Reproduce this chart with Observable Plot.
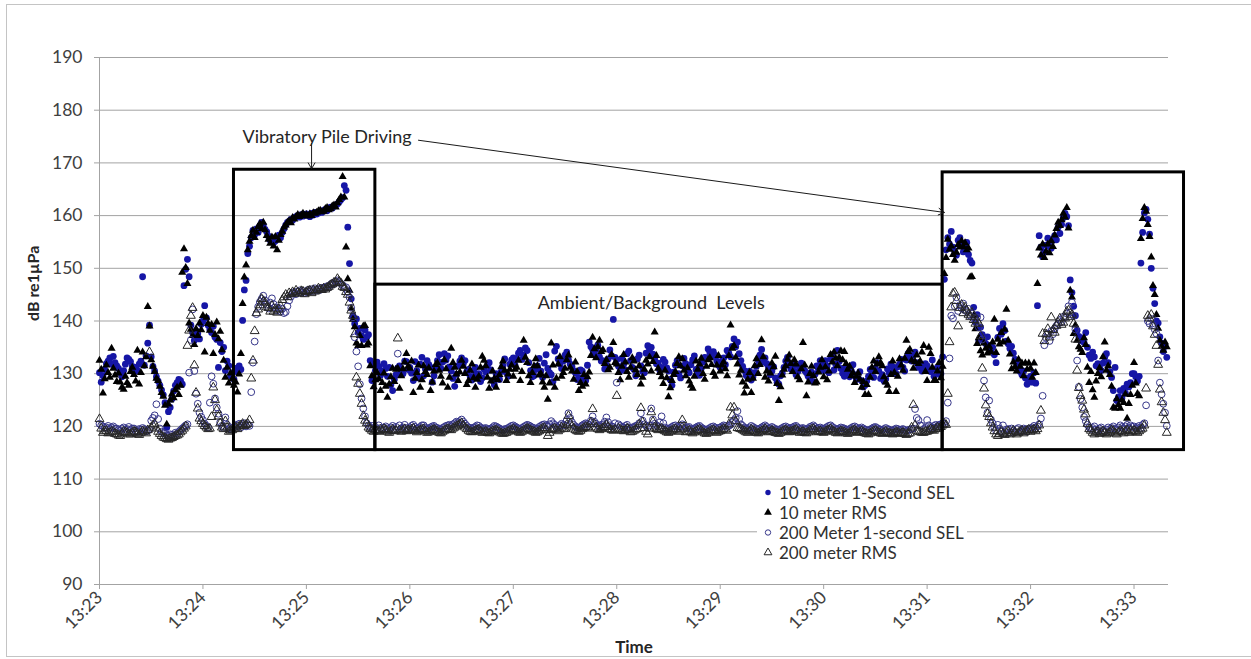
<!DOCTYPE html>
<html>
<head>
<meta charset="utf-8">
<script src="https://cdn.jsdelivr.net/npm/d3@7"></script>
<script src="https://cdn.jsdelivr.net/npm/@observablehq/plot@0.6"></script>
<style>
  html, body { margin: 0; background: #fff; overflow: hidden; }
  #chart { position: relative; width: 1251px; height: 659px; overflow: hidden; font-family: Lato, "Open Sans", sans-serif; }
  .edge { position: absolute; background: #c4c4c4; }
  #edge-top { left: 6px; top: 4px; width: 1245px; height: 1px; }
  #edge-left { left: 6px; top: 4px; width: 1px; height: 653px; }
  #edge-bottom { left: 6px; top: 656px; width: 1245px; height: 1px; }
  #chart svg.plot text { white-space: pre; }
  #legend { position: absolute; left: 757px; top: 482px; width: 210px; height: 81px; background: #fff; }
  #legend .row { display: flex; align-items: center; height: 20px; font-size: 17px; color: #303030; white-space: nowrap; }
  #legend .row svg { flex: none; margin: 0 5px 0 5px; }
</style>
</head>
<body>
<div id="chart"><div class="edge" id="edge-top"></div><div class="edge" id="edge-left"></div><div class="edge" id="edge-bottom"></div></div>
<script>
// Hydrophone levels, one reading per second starting at 13:23:00
const startTime = "13:23:00";
const endTime = "13:33:20";
const stepSeconds = 1;

const seriesNames = ["10 meter 1-Second SEL", "10 meter RMS", "200 Meter 1-second SEL", "200 meter RMS"];

// 10 m, 1-second SEL (dB re 1 µPa), one row of ten per 10 s
const sel10m = [
  // 13:23
  130.2,128.4,129.6,130.8,131.9,132.4,133,131.8,133.3,132.1,
  131.5,131,130.2,129.4,130.6,131.8,133,132.7,132.3,131.4,
  130.3,131.2,130.6,131.8,132.4,148.4,131.6,133.4,135.8,139.2,
  133.2,131.4,130.5,129.4,128.6,127.8,126.9,126,124.5,119.8,
  122.8,123.6,125.2,126.7,127.8,128.3,128.9,128.7,128,146.7,
  149.8,151.7,148.4,139.2,137.8,136.3,138.1,137.6,136.6,139.4,
  // 13:24
  140,142.9,140.6,139.2,138.4,137.8,139,136.9,136.5,131.2,
  135.9,134.2,135,130.6,132.4,131.5,129.6,130.2,128.9,131,
  130.3,131.5,130.8,140.1,145.9,147.7,152.8,154.2,155.8,157.2,
  156.4,157.5,156.8,158.1,158.7,158.2,157.4,156.9,156.1,155.3,
  155.8,154.9,155.2,155.6,156.3,155.8,156.8,157.5,158.2,158.7,
  158.9,159.3,159.1,159.6,159.8,160,159.7,160.2,159.9,160.1,
  // 13:25
  160.3,160,159.8,160.4,160.1,160.6,160.3,160.5,160.8,160.6,
  161,161.2,160.9,161.3,161.6,161.4,161.8,162,162.2,162.6,
  163,163.4,165.7,164.8,157.8,150.9,144.2,141,139.5,140.4,
  137.8,138.6,137.2,136.5,138.3,136.9,137.4,132.5,128.7,131.8,
  130.6,132.2,131.4,129.7,130.5,131.9,131,129.5,131.2,127.9,
  126.8,128.9,129.8,131.1,131.5,130.3,130,132.4,132.3,130.8,
  // 13:26
  131.2,130.1,128.7,132.3,130.6,129.2,131.8,133.1,129.6,130.9,
  132.5,131.7,131.2,128.4,129.6,130.8,132.5,133.6,131,132.2,
  133.8,132.6,133.4,131.3,130.5,129.1,127.6,129.9,131.5,132.4,
  133,131.9,132.5,130.4,130.8,129.5,128.8,130.6,131.2,129.8,
  130,128.5,129.2,130.9,130.3,131.6,132.1,130.7,128.7,127.9,
  130,129.4,128.9,130.4,131.5,132.8,130.2,129.5,131.8,132.6,
  // 13:27
  133,131.6,132.8,133.9,134.4,132.7,133.5,134.9,134.4,132.1,
  130.6,129.4,129.6,130.8,131.5,132.9,130.5,129.3,132,133.6,
  131,130.2,129.8,128.5,134.3,135.2,132.8,131.9,131,132.4,
  133.5,134.1,132.6,131.8,131.4,130.6,130.2,128.9,129.3,130.7,
  130.5,129.1,128.7,131.6,136,135.1,134.6,133.8,134.6,135.4,
  133.2,132.4,132.5,130.9,131.6,132.8,134.5,133.4,140.3,133.1,
  // 13:28
  132.6,131.4,130.5,132.9,131.8,130.7,133.8,134.3,132.5,131.2,
  130.8,129.6,132.8,133.5,131.5,130.4,130.2,133.9,135.3,134.6,
  135,133.7,132.8,131.9,132,130.6,131.2,132.7,132.2,131.1,
  130.5,128.9,127.8,130.3,131.6,132.5,130,129.2,131.5,132.9,
  131.9,130.6,130.2,131.7,132.6,133.4,130.8,129.9,129.7,131,
  132.2,133.1,133,134.7,134,133.2,134.2,133.5,132.4,131.6,
  // 13:29
  131.2,132.4,133,131.7,134.4,133.9,133.2,135.2,136.6,135.1,
  136,133.8,132.5,131.4,130.6,129.7,129.3,130.5,128.8,129.4,
  130.2,131.4,132.6,133.5,134.6,132.2,133,131.9,131.2,129.8,
  130.5,131.3,129.2,128.4,128,129.6,130.1,131.2,132.4,133.1,
  131.8,130.9,130.8,131.6,129.8,130.4,131.1,132,131.4,130.6,
  130.2,129.5,129.1,130.3,128.5,129.9,131.5,130.8,132.5,131.9,
  // 13:30
  130.6,132.5,131.5,130.2,132.8,133.6,130.7,131.8,134.4,132.3,
  131,130.1,129.5,131.2,130.2,129.4,130.6,131.7,129.8,128.9,
  129.2,130.4,128.7,127.5,127.8,128.6,129.5,130.8,130.4,129.3,
  131,132.1,130.5,129.1,129.8,128.6,129,130.9,130.2,131.8,
  131.3,130.4,130,131.3,131.8,132.7,131.2,130.5,132.6,133.8,
  133.2,132.4,133.5,134.1,132.1,131.2,131.6,130.5,130.8,131.9,
  // 13:31
  131.5,130.7,130.4,132.6,129.5,130.8,131.2,129.9,130,133.2,
  147.9,153.5,155.8,154.6,157,154,153.2,152.5,155.3,155.8,
  154.5,153.1,153.8,154.9,152.6,151.5,151,142.6,139.8,141.2,
  136.3,138.8,137.4,136.1,135.7,137,135.3,134.4,135,133.6,
  132.1,136.9,138.6,137.5,139.5,138.2,136.2,135.7,134.8,135.2,
  133.9,132.7,131.9,131.1,130.4,129.8,130.5,129.2,128,128.9,
  // 13:32
  129.5,128.4,130.2,128.2,142.9,156.2,154,152.2,153.1,154.4,
  155.7,154.2,153.8,155.3,156.2,155.4,157.8,156.6,158.3,159.6,
  160.4,159.8,158.1,147.8,145.4,142.8,141,138.2,137.1,136.3,
  136.8,135.9,137.8,135,133.5,132.9,134.1,133.2,131.5,131.9,
  131.2,130.6,132,133.1,133.8,132.1,130.4,129.3,126.8,131.2,
  124.9,125.6,126.8,125.4,127.2,126.3,128,127.5,128.3,130,
  // 13:33
  130,129.4,128.6,129.5,151,156.8,160.5,161.2,159.3,156.5,
  150,146.2,143.3,140,139.6,137,135.8,134.2,135.2,133.1
];

// 10 m, RMS
const rms10m = [
  // 13:23
  132.5,130.8,126.3,129,131.6,130.2,129.3,134.8,131,129.7,
  128.5,130.1,128.4,127.4,127,129.5,128.3,127.8,130.4,131.2,
  129.8,128.6,134.4,128,130.2,134.1,131.5,133.2,142.7,139,
  132.6,131.4,130.4,129.1,128.7,127.6,126.4,125.7,124,120.4,
  124.2,125,126.1,125.4,126.9,127.4,126,127.8,149.2,153.7,
  150.1,147.1,139.6,138.4,137.2,135.5,138.5,137.2,139.6,138.3,
  // 13:24
  141,134.1,140.7,139.5,138.2,139.3,133.8,137.4,139.8,136.6,
  138,134.5,132.5,129.3,131.2,128.2,130.1,129,127.8,128.4,
  126.5,129.9,133.8,143.3,148.3,150.6,153.5,155.1,156.2,157.2,
  155.8,156.8,157.9,158.4,157.5,158.7,157.3,156.2,155.5,154.7,
  155.9,154.2,156,153.5,155.3,156.4,157,157.8,158.2,158.7,
  159,158.6,159.6,159.3,159.8,160.2,159.8,160.1,160.4,160,
  // 13:25
  160.2,159.9,160.3,160,160.5,160.4,160.6,160.9,161,160.7,
  160.8,161.3,161.5,161.1,161.3,161.8,162,161.6,162.4,163,
  163.5,167.4,163.5,154,148,145.8,142.4,140.3,138.9,135.8,
  135.3,137.2,135.3,139,139.1,135.4,135.8,131.5,129.6,127.5,
  128.8,130.2,129,126.8,128.3,130.1,127.6,125.5,128,129.4,
  131,128.5,130.8,131,127.2,129.6,130.9,132.2,133.8,131.4,
  // 13:26
  131,132.4,126.4,129.1,130.2,131.6,127.4,128.8,131.5,130.4,
  129.8,131.1,126.8,128.4,130.5,131.7,132,130.6,129.5,128.2,
  132.6,130.9,127.4,129.3,134.8,132.1,131.2,129.9,128.7,130.3,
  132.5,131.4,130,127.9,128.7,130.6,131.8,129.2,127.4,128.9,
  129.5,131.2,133.3,132.5,131.5,129.3,127.2,128.6,130.5,129.1,
  127.4,128.8,129.8,131.3,132.4,130.6,128.7,129.9,130.8,131.6,
  // 13:27
  129.5,130.8,131.2,132.5,128.7,130.4,136.3,133.1,132.1,129.6,
  128.3,130.2,131.5,132.8,131.5,129.7,130,128.4,127.4,129.6,
  125.1,128.2,135.8,131.6,127.4,129.1,131.8,133.2,129.5,130.2,
  131,132.6,133.5,131.2,130.5,128.9,132.2,130.4,126.8,128.3,
  127.6,129.8,128,129.4,130.3,133.4,136.9,134.7,133,135.1,
  136.3,134.2,134.5,131.9,132.6,130.7,131.2,133.6,135.9,132.1,
  // 13:28
  131.8,130.2,128.8,131.4,133.6,132.2,130.4,129.3,131.2,133,
  132.4,130.7,129.8,131.5,128,129.3,130.8,132.5,131.8,133.2,
  130.5,132.3,137.9,133.4,131,130.2,129.4,128.1,130.6,129.2,
  125.6,127.3,128.7,129.8,130.4,131.9,133.2,131.5,132.8,130.6,
  129.6,131.1,128.6,127.8,127.2,129.5,132.4,130.8,131.8,132.9,
  130,128.9,131.4,132.6,133,131.7,130.2,129.5,131.6,133.4,
  // 13:29
  130.5,131.6,132.2,130.9,129.6,133.4,139.2,134.8,135.3,133.1,
  131.8,129.7,130.6,128.4,126.3,127.6,128.9,130.2,126.4,129.1,
  131.5,132.8,130,131.7,136.4,133.2,129.3,130.5,128.6,130.1,
  132,131.3,133.3,128.1,124.9,127.5,129.7,130.8,131.5,132.7,
  133.5,131.9,130.4,132.6,131.8,129.4,128.8,130.9,135.9,131.6,
  125.8,128.4,130,131.4,129.6,128.2,128.4,130.3,131.2,132.6,
  // 13:30
  129.4,131.3,128.8,130.5,133.6,132.2,134.1,132.9,131.5,133.1,
  134.3,132.6,134.2,131.9,130.8,131.4,129.6,130.2,128.3,129.5,
  130.1,128.9,127.4,128.5,126,127.9,126,129.3,131.2,132.4,
  130.4,131.8,133.2,132.1,131.5,129.4,128.4,127.8,126.6,129.8,
  132.4,130.2,126.6,129.5,132.8,131.6,130.6,132.9,136.3,134.2,
  134.6,132.5,131,132.3,133.5,131.9,132.4,134.1,135.3,130.4,
  // 13:31
  128.7,135,133.8,131.2,128.7,128.7,130.5,132.1,129.2,131.4,
  149,152,155.5,153.6,154.2,152.6,151.5,153,154.5,154,
  155.2,154.1,154.8,153.5,153.8,148.3,148.4,141,138.5,135.7,
  136.8,134.3,133.5,135.8,134.8,133.9,135.2,134.2,136,140.3,
  134,136.5,135.6,137.8,136,138.4,142.2,136.3,133.7,130.9,
  132.2,131.3,130.5,132.7,131.4,132,129.6,132,130.8,132,
  // 13:32
  131,129.3,132,130.2,147.1,153.8,152.5,154.6,152,153.2,
  154.6,152.9,155.2,154.1,156.3,157.5,158.7,158.1,159.2,160.4,
  159.7,161.5,157.6,145.8,144.5,137.6,139.2,136.3,135.1,134.6,
  134,136.8,135.5,131.2,128.3,130.4,126.9,125.5,128.6,130,
  131.1,129.4,133.2,136,130.6,131.5,129.8,127.6,123.6,123.4,
  125.2,124.1,123.4,125,124.5,126.1,121.5,124.3,126,127.8,
  // 13:33
  132.1,128.2,126.2,125.8,155.6,159.4,161.5,160.8,158.3,156,
  152.1,146.7,145,141.2,138.6,136.3,135.2,134.4,136,135.1
];

// 200 m, 1-second SEL
const sel200m = [
  // 13:23
  120.5,120.2,120,119.7,119.8,120.1,119.5,119.8,120,119.6,
  119.6,119.3,119.2,119.6,119.8,119.4,119.5,119.9,119.3,119.6,
  119.6,119.2,119,119.5,119.4,119.7,119.5,119.1,119.2,119.4,
  121.1,121.6,122.1,124.2,121.4,119.6,119,118.8,118.6,118.3,
  118.2,118.5,118.4,118.1,118.8,118.6,119,119.3,119.6,119.9,
  120.2,120.4,130.2,136.4,142.2,130.5,126.2,124.3,122.6,121.8,
  // 13:24
  121.2,120.5,120.1,119.8,124.5,129.5,128.1,125.3,123.6,122.4,
  120.8,120.1,119.7,121.7,120.3,119.5,119.8,119.4,119.8,120.3,
  120.1,120.5,119.8,120.2,120.6,120,120.4,120.1,126.5,132.1,
  136.1,141.3,142.7,143.6,144.2,144.8,143.9,143.1,142.4,143.5,
  144.3,143.2,142.6,142,142.5,141.8,142.3,141.5,141.7,142.8,
  143.9,144.6,145.2,145.5,145.1,145.6,145.8,145.4,145.7,145.3,
  // 13:25
  145.5,145.9,145.6,146,145.7,146.2,145.8,146.1,145.9,146.3,
  146.1,146.4,146.6,146.4,146.9,147.2,147,147.5,147.7,147.4,
  147.1,146.8,146.3,146.4,145.5,144.5,142.5,140.7,136.9,134.2,
  131.4,128,125.3,123.4,121.9,120.6,120.2,119.8,120.1,119.6,
  119.9,119.5,120.2,119.7,119.4,119.8,120,119.6,119.3,119.8,
  120.1,119.5,119.9,133.8,120.2,119.6,119.8,120.3,119.7,119.5,
  // 13:26
  119.8,120.1,120.3,119.9,119.6,119.7,119.9,120.2,120.2,119.8,
  119.5,119.6,119.8,120,120.1,119.8,119.7,119.5,119.4,119.7,
  119.9,120.1,120.2,120.3,120,120.4,120.6,120.9,120.8,121,
  121.3,120.9,120.5,120.1,119.8,119.7,119.6,119.8,119.9,120.2,
  120.1,119.8,119.5,119.6,119.7,119.5,119.4,119.6,119.8,120.1,
  120,119.8,119.6,119.4,119.3,119.5,119.5,119.7,119.9,120.1,
  // 13:27
  120.2,120,119.8,119.6,119.5,119.7,119.9,120.1,120.3,120.2,
  120,119.8,119.7,119.5,119.6,119.9,120.1,120.3,120.4,120.2,
  120,120.4,121,120.6,120.3,120,119.8,120.2,120.5,120.3,
  120.2,121.2,122.5,121.6,120.8,120.3,120,119.8,119.7,119.9,
  120.2,120.4,120.6,120.5,120.3,121.1,121.9,120.9,120.5,120.2,
  120,120.3,120.4,120.9,121.7,120.8,120.2,120,119.9,120.6,
  // 13:28
  128.3,120.4,120.1,119.9,119.8,120.1,120.3,119.8,119.6,119.8,
  119.9,120.1,120.2,120.6,122.5,121.1,120.4,120.1,119.8,120.2,
  123.4,121.3,120.5,120.2,120,120.8,121.9,120.6,119.8,119.6,
  119.5,119.7,119.9,120.1,120.2,119.9,119.7,120,120.4,120.2,
  119.6,119.8,119.9,119.6,119.4,119.6,119.8,120,120.1,119.8,
  119.6,119.4,119.3,119.5,119.7,119.9,120,119.8,119.5,119.7,
  // 13:29
  119.8,120,120.2,120.1,119.9,120.1,120.3,120.8,121.2,121.6,
  122.9,121.4,120.4,120.1,119.8,119.6,119.5,119.8,120.1,119.9,
  119.7,119.5,119.4,119.6,119.8,120,120.2,119.9,119.6,119.7,
  119.9,119.7,119.5,119.4,119.3,119.5,119.7,119.9,120,119.8,
  119.6,119.7,119.8,120,120.1,119.8,119.5,119.6,119.7,119.5,
  119.4,119.6,119.9,120,120.2,119.9,119.6,119.7,119.8,119.6,
  // 13:30
  119.5,119.7,119.9,120.1,120.2,119.9,119.7,119.5,119.4,119.6,
  119.8,119.7,119.6,119.4,119.3,119.5,119.7,119.9,120,119.8,
  119.5,119.6,119.8,119.6,119.4,119.3,119.2,119.4,119.6,119.8,
  119.9,119.7,119.5,119.4,119.3,119.5,119.7,119.5,119.4,119.2,
  119.2,119.4,119.6,119.5,119.3,119.4,119.5,119.3,119.1,119.3,
  119.4,119.5,119.6,123.3,121.6,121.2,120.2,120.1,119.5,119.7,
  // 13:31
  121.2,120.2,119.9,119.8,120.1,120.3,120,120.3,120.4,120.6,
  120.4,121,124.5,132.9,141,140.5,142.8,144.5,141.9,143,
  142.4,143.3,142.1,141.8,142.3,141,141.4,140.5,139.8,140.7,
  138.8,140.7,136.5,128.7,125.5,122.6,124.9,121.3,120.6,119.8,
  119.2,120.3,119.6,119,120.2,118.6,119.4,119.5,118.8,119.6,
  119.2,118.9,119.5,119.7,119,119.3,119.6,119.4,119,119.6,
  // 13:32
  119.5,119.8,120.1,119.7,120,120.4,121.5,125.8,135.4,136.8,
  137.6,136.2,138.1,137.5,138.5,139.1,139.5,140.2,139.8,140.8,
  140.7,141.4,142.8,141.6,143.5,141,138.4,132.5,127.5,125.2,
  123.6,121.8,121,120.3,119.8,119.5,119.7,120,119.4,119.2,
  119.6,119.8,119.3,119,119.4,119.8,119.5,119.7,120,119.6,
  119.4,119.8,120.2,119.9,119.6,120,120.3,119.8,120.2,119.9,
  // 13:33
  120,119.6,119.8,120.1,119.7,120.3,120.6,124,140,139.5,
  140.4,139.2,138.4,137.6,132.5,128.3,126.1,124.3,122.6,120.1
];

// 200 m, RMS
const rms200m = [
  // 13:23
  121.4,119.6,118.8,119.1,119.2,118.7,118.8,119,119,118.6,
  118.5,118.3,118.2,118.7,119,118.9,118.8,118.5,118.5,118.8,
  119,118.9,118.6,118.4,118.8,119.1,119,118.7,119.3,134.1,
  119.8,120.2,120.5,119.6,119,118.6,118.2,117.9,117.8,117.6,
  117.5,117.7,117.8,118,118.2,118.3,118.5,118.9,119.2,119.6,
  120,135.3,138.2,141,142.5,131.6,126.4,123.4,121.5,121,
  // 13:24
  120.5,120.1,119.8,119.5,119.6,121.8,127.4,125,123.1,121.9,
  120.6,119.8,119.5,121,119.8,119,119.2,119.3,119.6,119.8,
  119.5,120,120.2,120.5,120.1,120.3,120.5,121.2,129.1,132.5,
  138.1,141.5,142.2,143,144.2,143.7,143.5,142.6,142.5,141.8,
  142.9,141.8,142.2,141.6,142.2,142.9,144,144.5,145,144.6,
  145.3,145.1,145.5,145.2,145.8,145.4,145.2,145.7,145.6,145.1,
  // 13:25
  145.5,145.7,145.8,145.3,145.9,145.6,145.8,146.2,146,145.9,
  146.2,146,146.3,146.5,146.8,147,147.3,147.2,148,147.5,
  147.2,146.5,146.3,145.5,145,143.5,142,141,137.5,129.3,
  128.1,126.2,124.3,122,121.1,120.6,119.8,119.5,119.2,119,
  119.3,119.1,119,119.4,119.2,119.5,119.3,119,118.8,119.2,
  119.4,119.1,119.2,136.7,119.3,119,119.2,119.5,119.1,119.3,
  // 13:26
  119.2,119.4,119.6,119.2,118.9,119.1,119.3,119.4,119.5,119.1,
  118.8,118.9,119.1,119.3,119.4,119.2,119,118.8,118.7,119,
  119.2,119.4,119.5,119.4,119.3,119.6,119.8,120,120.2,120.4,
  120.6,120.2,119.8,119.5,119.2,119,118.9,119,119.2,119.3,
  119.4,119.1,118.8,118.9,119,118.8,118.7,118.9,119.1,119.2,
  119.3,119.1,118.9,118.7,118.6,118.7,118.8,119,119.2,119.3,
  // 13:27
  119.5,119.3,119.1,118.9,118.8,119,119.2,119.4,119.6,119.5,
  119.3,119.1,119,118.8,118.9,119.1,119.4,119.6,119.7,119.3,
  118.2,118.8,119.3,119.5,119.6,119.4,119.1,119.4,119.8,119.6,
  119.5,120.3,122,120.6,120,119.6,119.3,119.1,119,119.2,
  119.5,119.7,119.9,119.8,119.6,120.8,123.3,120.5,119.8,119.5,
  119.3,119.5,119.7,119.9,120.3,119.9,119.5,119.3,119.2,119.4,
  // 13:28
  125.8,119.6,119.4,119.2,119.1,119.3,119.6,119.4,118.9,119,
  119.2,119.4,119.5,120.4,123.5,120.8,119.7,119,118.5,119.6,
  122.7,120.9,119.8,119.5,119.3,119.5,119.6,119.3,119.1,118.9,
  118.8,119,119.2,119.4,119.5,119.2,119,119.4,121.2,119.6,
  118.9,119,119.2,118.9,118.7,118.9,119.1,119.3,119.4,119.2,
  118.9,118.7,118.6,118.8,119,119.2,119.3,119.1,118.8,119,
  // 13:29
  119.1,119.3,119.5,119.4,119.2,120.4,123.6,122.1,123.6,121,
  119.7,119.6,119.5,119.3,119.1,118.9,118.8,119.1,119.4,119.2,
  119,118.8,118.7,118.9,119.1,119.3,119.5,119.2,118.9,119,
  119.2,119,118.8,118.7,118.6,118.8,119,119.2,119.3,119.1,
  118.9,119,119.1,119.3,119.4,119.1,118.8,118.9,119,118.8,
  118.7,118.9,119.2,119.4,119.5,119.2,118.9,119,119.1,118.9,
  // 13:30
  118.8,119,119.2,119.3,119.5,119.2,119,118.8,118.7,118.9,
  119.1,119,118.9,118.7,118.6,118.8,119,119.2,119.3,119,
  118.8,118.9,119.1,118.9,118.7,118.6,118.5,118.7,118.9,119.1,
  119.2,119,118.8,118.7,118.6,118.8,119,118.8,118.7,118.6,
  118.5,118.7,118.9,118.8,118.6,118.7,118.8,118.6,118.4,118.6,
  118.7,119.8,124.1,120.2,119.2,119,118.9,118.8,118.8,119,
  // 13:31
  119,119.2,119.5,119.3,119.2,119.5,119.8,119.6,119.9,120.2,
  120.5,120.3,126.2,136,142.6,145.2,145.4,143.8,139,142.5,
  143.1,141.5,142.6,142,141.2,140.8,141.6,140.2,139.5,140.1,
  139.5,137.2,131,127.2,124,122.4,121.8,120.6,119.8,119.1,
  118.5,118.2,118.6,119,118.6,118.4,118.8,119.1,118.5,118.7,
  119.2,118.9,118.5,118.8,119,119.2,118.7,119,119.2,119.4,
  // 13:32
  119,119.3,119.4,119.1,119.5,120.2,123,137.6,136.2,137.5,
  138.5,136.9,140.7,138.3,137.8,139.1,139.7,140.5,139.3,139.7,
  140.5,141.8,142,140.8,141.2,139.5,136.5,130.6,127.3,125.8,
  124.9,123.2,122.3,120.5,119.5,119.2,118.8,118.5,118.9,119,
  118.6,118.8,119.1,118.8,118.5,118.7,118.9,119.3,119.1,118.7,
  118.5,118.9,119.2,119,118.7,119.1,119.3,118.8,119.2,119,
  // 13:33
  119.2,119,118.8,119.1,119.4,119.6,120.2,127.2,141,140.5,
  141.2,139,137.4,135.3,131.7,127,124.6,122.6,121.2,118.8
];

// Axis ticks
const yTicks = [90, 100, 110, 120, 130, 140, 150, 160, 170, 180, 190];
const xTickLabels = ["13:23", "13:24", "13:25", "13:26", "13:27", "13:28", "13:29", "13:30", "13:31", "13:32", "13:33"];

// Highlighted periods: pile driving (two) and ambient background
const boxStart = ["13:24:18", "13:25:40", "13:31:09"];
const boxEnd = ["13:25:40", "13:31:09", "13:33:29"];
const boxBottom = [115.5, 115.5, 115.5];
const boxTop = [168.7, 146.9, 168.2];

// Callout labels and their leader arrows
const noteText = ["Vibratory Pile Driving", "Ambient/Background  Levels"];
const noteTime = ["13:25:12", "13:28:20"];
const noteLevel = [174.8, 143.3];
const arrowFromTime = ["13:25:03", "13:26:05"];
const arrowFromLevel = [173.7, 174.3];
const arrowToTime = ["13:25:03", "13:31:10"];
const arrowToLevel = [168.9, 160.6];

// Series styling
const seriesFill = ["#1616a6", "#000000", "none", "none"];
const seriesStroke = ["none", "none", "#36368a", "#262626"];
const seriesSymbol = ["circle", "triangle", "circle", "triangle"];
const seriesRadius = [3.4, 3.0, 3.4, 3.3];

function clock(s) {
  const [h, m, sec = 0] = s.split(":").map(Number);
  return new Date(Date.UTC(2000, 0, 1, h, m, sec));
}

const t0 = clock(startTime).getTime();
function toRows(values) {
  return values.map((v, i) => ({time: new Date(t0 + i * stepSeconds * 1000), dB: v}));
}
const seriesRows = [sel10m, rms10m, sel200m, rms200m].map(toRows);

const idx3 = [0, 1, 2];
const idx2 = [0, 1];

const dotMarks = seriesRows.map((rows, k) =>
  Plot.dot(rows, {
    x: "time", y: "dB", r: seriesRadius[k], symbol: seriesSymbol[k],
    fill: seriesFill[k], stroke: seriesStroke[k], strokeWidth: 1
  })
);

const chart = Plot.plot({
  width: 1251,
  height: 659,
  marginLeft: 99,
  marginRight: 83,
  marginTop: 57,
  marginBottom: 75,
  style: {fontFamily: "Lato, 'Open Sans', sans-serif", fontSize: "17px", color: "#404040", background: "transparent", overflow: "visible"},
  x: {type: "utc", domain: [clock(startTime), clock(endTime)]},
  y: {domain: [90, 190]},
  marks: [
    Plot.gridY(yTicks, {stroke: "#a3a3a3", strokeOpacity: 1}),
    Plot.ruleY([90], {stroke: "#a3a3a3"}),
    Plot.ruleX([clock(startTime)], {stroke: "#a3a3a3"}),
    Plot.axisY(yTicks, {tickSize: 5, tickPadding: 12, stroke: "#a3a3a3", fill: "#404040", fontSize: 17.5, label: null}),
    Plot.axisX(xTickLabels.map(clock), {
      tickSize: 5, tickPadding: 5, tickRotate: -45, stroke: "#a3a3a3", fill: "#404040", fontSize: 17.5,
      tickFormat: d3.utcFormat("%H:%M"), label: null
    }),
    ...dotMarks,
    Plot.rect(idx3, {
      x1: i => clock(boxStart[i]), x2: i => clock(boxEnd[i]),
      y1: i => boxBottom[i], y2: i => boxTop[i],
      fill: "none", stroke: "#000", strokeWidth: 3
    }),
    Plot.arrow(idx2, {
      x1: i => clock(arrowFromTime[i]), y1: i => arrowFromLevel[i],
      x2: i => clock(arrowToTime[i]), y2: i => arrowToLevel[i],
      stroke: "#1a1a1a", strokeWidth: 1, headLength: 10, bend: 0
    }),
    Plot.text(idx2, {
      x: i => clock(noteTime[i]), y: i => noteLevel[i], text: i => noteText[i],
      fontSize: 18, fill: "#262626"
    }),
    Plot.text(["dB re1µPa"], {frameAnchor: "left", dx: -66, rotate: -90, fontSize: 16, fontWeight: "bold", fill: "#262626"}),
    Plot.text(["Time"], {frameAnchor: "bottom", dy: 68, fontSize: 17, fontWeight: "bold", fill: "#262626"})
  ]
});

const host = document.getElementById("chart");
chart.style.position = "absolute";
chart.style.left = "0px";
chart.style.top = "0px";
host.appendChild(chart);

// Legend box drawn over the plot area
const legend = d3.select(host).append("div").attr("id", "legend");
seriesNames.forEach((name, k) => {
  const row = legend.append("div").attr("class", "row");
  const svg = row.append("svg").attr("width", 12).attr("height", 12);
  const size = Math.PI * (k % 2 ? 2.9 : 2.7) ** 2;
  svg.append("path")
    .attr("transform", "translate(6,6.5)")
    .attr("d", d3.symbol(seriesSymbol[k] === "triangle" ? d3.symbolTriangle : d3.symbolCircle, size)())
    .attr("fill", seriesFill[k])
    .attr("stroke", seriesStroke[k] === "none" ? null : seriesStroke[k])
    .attr("stroke-width", 1);
  row.append("span").text(name);
});
</script>
</body>
</html>
